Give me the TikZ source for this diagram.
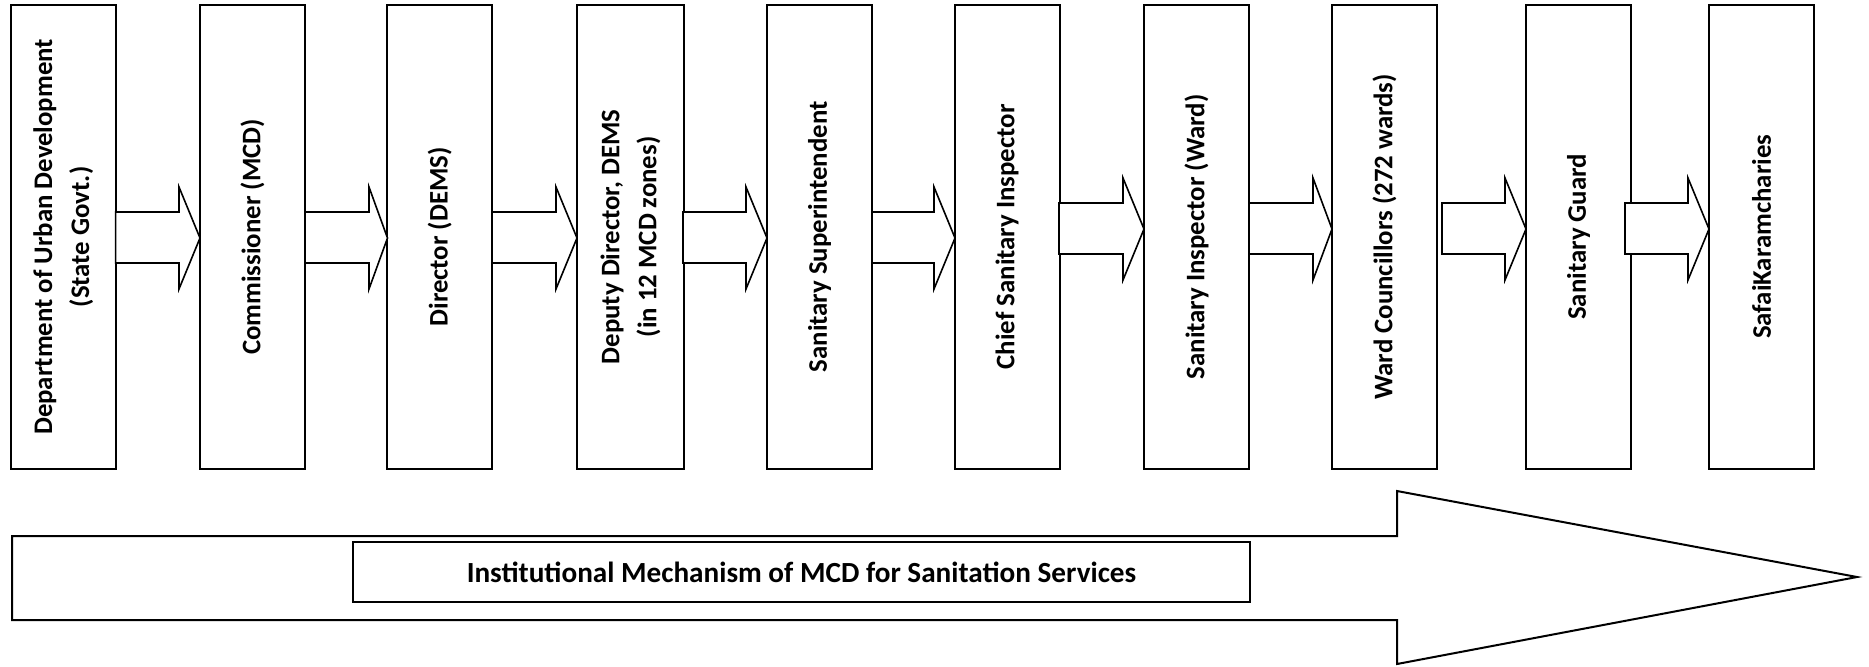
\documentclass[tikz,border=0pt]{standalone}
\usepackage{fontspec}
\setmainfont{Carlito}
\newcommand\blockarr[8]{\draw[blockarrow] (#1,#4) -- (#2,#4) -- (#2,#6) -- (#3,#8) -- (#2,#7) -- (#2,#5) -- (#1,#5) -- cycle;}
\begin{document}
\begin{tikzpicture}[x=0.5pt,y=-0.5pt,
  txt/.style={font=\bfseries\fontsize{13.4}{18.5}\selectfont},
  box/.style={txt, draw, line width=1pt, fill=white, rotate=90, minimum width=232.2pt, minimum height=52.5pt, inner sep=0pt, align=center},
  blockarrow/.style={draw, line width=0.8pt, fill=white, line join=miter}]
\useasboundingbox (0,0) rectangle (1869,666);
\fill[white] (0,0) rectangle (1869,666);
\node[box] (b1) at (63.15,236.85) {Department of Urban Development\\(State Govt.)};
\node[box] (b2) at (252.5,236.85) {Commissioner (MCD)};
\node[box] (b3) at (439.75,236.85) {Director (DEMS)};
\node[box, minimum height=53.5pt] (b4) at (630.5,236.85) {Deputy Director, DEMS\\(in 12 MCD zones)};
\node[box] (b5) at (819.5,236.85) {Sanitary Superintendent};
\node[box] (b6) at (1007,236.85) {Chief Sanitary Inspector};
\node[box] (b7) at (1196.5,236.85) {Sanitary Inspector (Ward)};
\node[box] (b8) at (1384.5,236.85) {Ward Councillors (272 wards)};
\node[box] (b9) at (1578.5,236.85) {Sanitary Guard};
\node[box] (b10) at (1761.5,236.85) {SafaiKaramcharies};
% block arrows between boxes
\blockarr{115.6}{179}{200}{212}{263}{187}{289}{238}
\blockarr{305}{369}{387.5}{212}{263}{187}{289}{238}
\blockarr{492}{556}{577}{212}{263}{187}{289}{238}
\blockarr{683}{746}{767}{212}{263}{187}{289}{238}
\blockarr{872}{934}{955}{212}{263}{187}{289}{238}
\blockarr{1059}{1123}{1144}{203}{254}{178}{280}{229}
\blockarr{1249}{1313}{1332}{203}{254}{178}{280}{229}
\blockarr{1442}{1505}{1526}{203}{254}{178}{280}{229}
\blockarr{1625}{1688}{1709}{203}{254}{178}{280}{229}
% big arrow
\draw[blockarrow, line width=1pt] (12,536) -- (1397,536) -- (1397,491) -- (1857,577) -- (1397,664) -- (1397,620) -- (12,620) -- cycle;
\node[draw, line width=0.8pt, fill=white, minimum width=448.5pt, minimum height=30pt, inner sep=0pt, font=\bfseries\fontsize{14.6}{18}\selectfont] (lbl) at (801.5,572) {Institutional Mechanism of MCD for Sanitation Services};
\end{tikzpicture}
\end{document}
